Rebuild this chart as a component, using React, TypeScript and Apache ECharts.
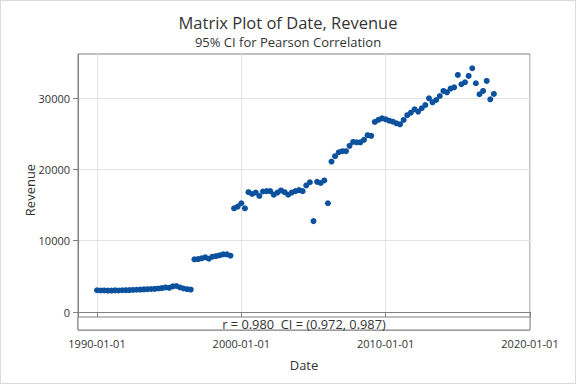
import React, { useEffect, useRef } from "react";
import * as echarts from "echarts";

// Quarterly observations
const dates: string[] = [
  "1990-01-01","1990-04-01","1990-07-01","1990-10-01",
  "1991-01-01","1991-04-01","1991-07-01","1991-10-01",
  "1992-01-01","1992-04-01","1992-07-01","1992-10-01",
  "1993-01-01","1993-04-01","1993-07-01","1993-10-01",
  "1994-01-01","1994-04-01","1994-07-01","1994-10-01",
  "1995-01-01","1995-04-01","1995-07-01","1995-10-01",
  "1996-01-01","1996-04-01","1996-07-01","1996-10-01",
  "1997-01-01","1997-04-01","1997-07-01","1997-10-01",
  "1998-01-01","1998-04-01","1998-07-01","1998-10-01",
  "1999-01-01","1999-04-01","1999-07-01","1999-10-01",
  "2000-01-01","2000-04-01","2000-07-01","2000-10-01",
  "2001-01-01","2001-04-01","2001-07-01","2001-10-01",
  "2002-01-01","2002-04-01","2002-07-01","2002-10-01",
  "2003-01-01","2003-04-01","2003-07-01","2003-10-01",
  "2004-01-01","2004-04-01","2004-07-01","2004-10-01",
  "2005-01-01","2005-04-01","2005-07-01","2005-10-01",
  "2006-01-01","2006-04-01","2006-07-01","2006-10-01",
  "2007-01-01","2007-04-01","2007-07-01","2007-10-01",
  "2008-01-01","2008-04-01","2008-07-01","2008-10-01",
  "2009-01-01","2009-04-01","2009-07-01","2009-10-01",
  "2010-01-01","2010-04-01","2010-07-01","2010-10-01",
  "2011-01-01","2011-04-01","2011-07-01","2011-10-01",
  "2012-01-01","2012-04-01","2012-07-01","2012-10-01",
  "2013-01-01","2013-04-01","2013-07-01","2013-10-01",
  "2014-01-01","2014-04-01","2014-07-01","2014-10-01",
  "2015-01-01","2015-04-01","2015-07-01","2015-10-01",
  "2016-01-01","2016-04-01","2016-07-01","2016-10-01",
  "2017-01-01","2017-04-01","2017-07-01",
];

const revenue: number[] = [
  3050, 3020, 3030, 3000, 3010, 3040, 3020, 3050,
  3060, 3080, 3100, 3120, 3150, 3180, 3200, 3230,
  3250, 3300, 3350, 3450, 3400, 3600, 3650, 3450,
  3300, 3200, 3150,
  7390, 7430, 7530, 7670, 7480, 7760, 7850, 7950, 8090, 8090, 7900,
  14540, 14780, 15250, 14540, 16800, 16550, 16750, 16270,
  16900, 16950, 16950, 16450, 16750, 17050, 16800, 16450,
  16750, 16950, 17100, 16950, 17750, 18200, 12750, 18250,
  18100, 18450, 15250, 21100, 21850, 22400, 22550, 22550,
  23300, 23850, 23800, 23800, 24150, 24800, 24700, 26650,
  26950, 27150, 27020, 26830, 26690, 26460, 26320, 26930,
  27600, 27950, 28430, 28100, 28570, 29030, 29970, 29410,
  29730, 30290, 31000, 30810, 31330, 31510, 33240, 31940,
  32220, 33100, 34180, 32080, 30540, 31000, 32400, 29830,
  30580,
];

const xTickLabels: string[] = ["1990-01-01", "2000-01-01", "2010-01-01", "2020-01-01"];
const yTickValues: number[] = [0, 10000, 20000, 30000];

const titleText = "Matrix Plot of Date, Revenue";
const subtitleText = "95% CI for Pearson Correlation";
const corrText = "r = 0.980  CI = (0.972, 0.987)";
const yName = "Revenue";
const xName = "Date";

const FONT = "'Open Sans', 'Noto Sans', sans-serif";

export default function App() {
  const ref = useRef<HTMLDivElement>(null);

  useEffect(() => {
    if (!ref.current) return;
    const chart = echarts.init(ref.current, undefined, { renderer: "svg" });

    const xTicks = xTickLabels.map((d) => Date.parse(d + "T00:00:00Z"));
    const points = dates.map((d, i) => [Date.parse(d + "T00:00:00Z"), revenue[i]]);

    const gridLeft = 78;
    const gridRight = 46;
    const gridTop = 54;
    const gridBottom = 54;
    const W = 576;
    const H = 384;
    const plotW = W - gridLeft - gridRight;
    const plotH = H - gridTop - gridBottom;
    const boxH = 13;

    const pad = (n: number) => (n < 10 ? "0" + n : "" + n);

    chart.setOption({
      animation: false,
      backgroundColor: "#ffffff",
      title: [
        {
          text: titleText,
          left: "center",
          top: 9,
          textStyle: { fontFamily: FONT, fontSize: 16.5, fontWeight: "normal", color: "#333333" },
        },
        {
          text: subtitleText,
          left: "center",
          top: 30,
          textStyle: { fontFamily: FONT, fontSize: 13, fontWeight: "normal", color: "#333333" },
        },
      ],
      grid: {
        left: gridLeft,
        right: gridRight,
        top: gridTop,
        bottom: gridBottom,
        show: true,
        borderColor: "#808080",
        borderWidth: 1,
      },
      xAxis: {
        type: "value",
        min: Date.parse("1988-09-07T00:00:00Z"),
        max: Date.parse("2020-01-01T00:00:00Z"),
        name: xName,
        nameLocation: "middle",
        nameGap: 28,
        nameTextStyle: { fontFamily: FONT, fontSize: 13, color: "#333333" },
        axisLine: { show: true, lineStyle: { color: "#808080" } },
        axisTick: { show: true, length: 5, customValues: xTicks, lineStyle: { color: "#808080" } },
        axisLabel: {
          customValues: xTicks,
          fontFamily: FONT,
          fontSize: 11,
          color: "#333333",
          margin: 8,
          formatter: (v: number) => {
            const d = new Date(v);
            return d.getUTCFullYear() + "-" + pad(d.getUTCMonth() + 1) + "-" + pad(d.getUTCDate());
          },
        },
        splitLine: { show: true, lineStyle: { color: "#e3e3e3" } },
      },
      yAxis: {
        type: "value",
        min: -2520,
        max: 36180,
        axisLine: { show: true, lineStyle: { color: "#808080" } },
        axisTick: { show: true, length: 5, customValues: yTickValues, lineStyle: { color: "#808080" } },
        axisLabel: {
          customValues: yTickValues,
          fontFamily: FONT,
          fontSize: 11,
          color: "#333333",
          margin: 8,
          formatter: (v: number) => String(v),
        },
        splitLine: { show: true, lineStyle: { color: "#e3e3e3" } },
      },
      series: [
        {
          type: "scatter",
          data: points,
          symbol: "circle",
          symbolSize: 6,
          itemStyle: { color: "#0b519e", opacity: 1 },
          z: 3,
        },
      ],
      graphic: [
        {
          type: "rect",
          z: 10,
          shape: { x: gridLeft, y: H - gridBottom - boxH, width: plotW, height: boxH },
          style: { fill: "#ffffff", stroke: "#808080", lineWidth: 1 },
        },
        {
          type: "text",
          z: 11,
          x: gridLeft + plotW / 2,
          y: H - gridBottom - boxH / 2,
          style: {
            text: corrText,
            fontFamily: FONT,
            fontSize: 12.8,
            fill: "#333333",
            align: "center",
            verticalAlign: "middle",
          },
        },
        {
          type: "text",
          z: 11,
          x: 30,
          y: gridTop + plotH / 2 - 2,
          rotation: Math.PI / 2,
          style: {
            text: yName,
            fontFamily: FONT,
            fontSize: 13,
            fill: "#333333",
            align: "center",
            verticalAlign: "middle",
          },
        },
      ],
    });

    return () => {
      chart.dispose();
    };
  }, []);

  return (
    <div style={{ position: "fixed", left: 0, top: 0, width: 576, height: 384, background: "#ffffff" }}>
      <div ref={ref} style={{ width: 576, height: 384 }} />
      <div
        style={{
          position: "absolute",
          left: 0,
          top: 0,
          width: 576,
          height: 384,
          boxSizing: "border-box",
          border: "1px solid #dcdcdc",
          pointerEvents: "none",
        }}
      />
    </div>
  );
}
